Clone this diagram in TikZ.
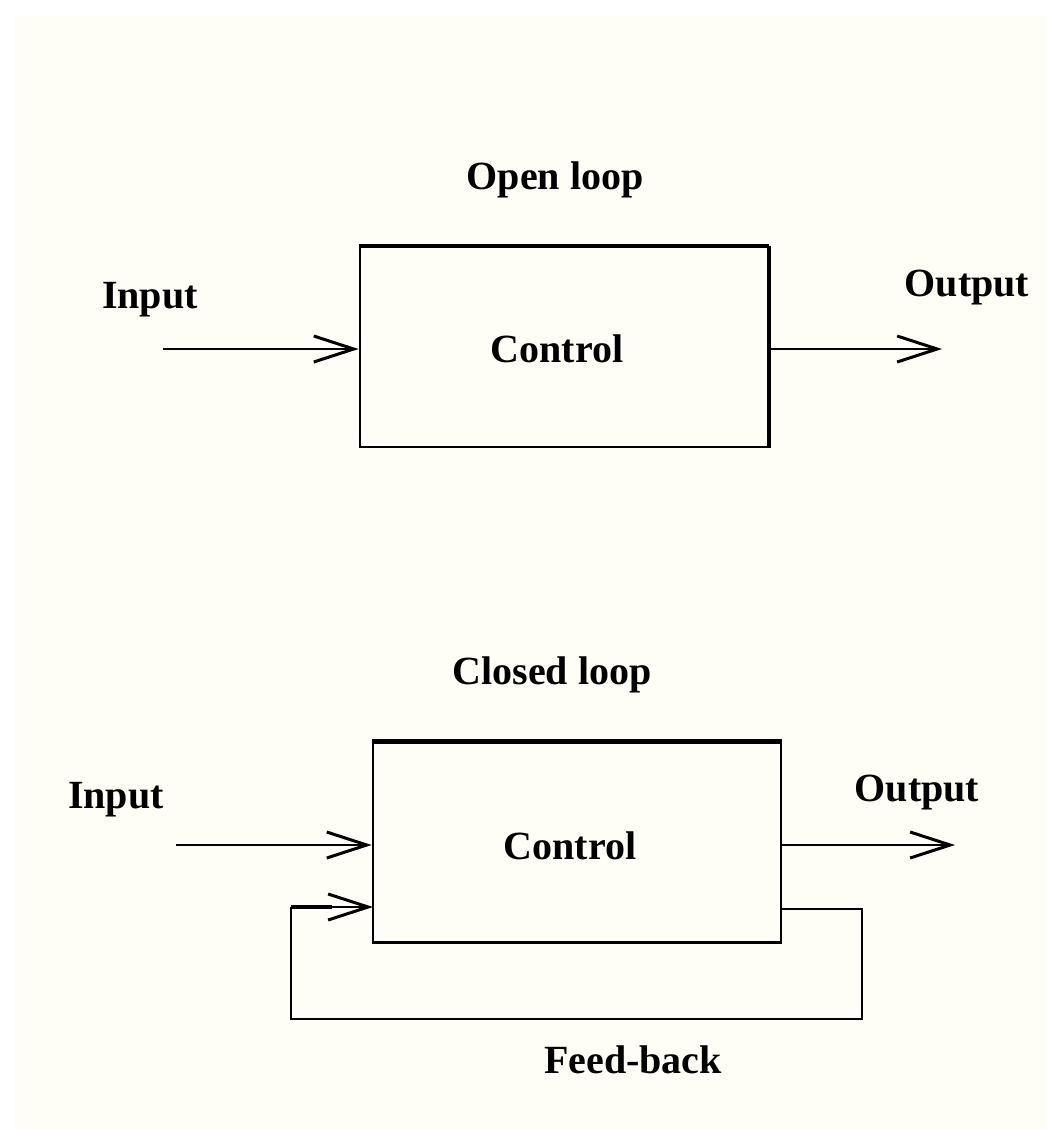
\documentclass[tikz,border=0pt]{standalone}
\usepackage{fontspec}
\setmainfont{Liberation Serif}
\usetikzlibrary{arrows.meta,calc}
\definecolor{bgpaper}{RGB}{254,254,247}
\tikzset{
  blockbox/.style={draw, line width=2.8pt, minimum width=408pt, minimum height=200pt, inner sep=0pt, font=\fontsize{40}{44}\selectfont\bfseries},
  lbl/.style={font=\fontsize{40}{44}\selectfont\bfseries, inner sep=0pt},
  conn/.style={line width=2.6pt, -{Straight Barb[length=40pt,width=26pt,line width=3pt]}},
  fbline/.style={line width=2.8pt}
}
\begin{document}
\begin{tikzpicture}[x=1pt,y=-1pt]
\useasboundingbox (0,0) rectangle (1047,1130);
\fill[white] (0,0) rectangle (1047,1130);
\fill[bgpaper] (15,15) rectangle (1047,1130);

% Open loop
\node[lbl] (t1) at (555,180) {Open loop};
\node[blockbox] (box1) at (564,347) {};
\node[lbl] (c1) at (557,349) {Control};
\draw[line width=4pt] (box1.north west) -- (box1.north east);
\draw[line width=3.5pt] (box1.north east) -- (box1.south east);
\node[lbl] (in1l) at (150,300) {Input};
\node[lbl] (out1l) at (967,288) {Output};
\coordinate (in1) at (163,349);
\coordinate (out1) at (942,349);
\draw[conn] (in1) -- (in1 -| box1.west);
\draw[conn] (out1 -| box1.east) -- (out1);

% Closed loop
\node[lbl] (t2) at (552,675) {Closed loop};
\node[blockbox] (box2) at (577,842.5) {};
\node[lbl] (c2) at (570,846) {Control};
\draw[line width=3.5pt] (box2.north west) -- (box2.north east);
\node[lbl] (in2l) at (116,800) {Input};
\node[lbl] (out2l) at (917,793) {Output};
\coordinate (in2) at (176,845);
\coordinate (out2) at (955,845);
\draw[conn] (in2) -- (in2 -| box2.west);
\draw[conn] (out2 -| box2.east) -- (out2);

% Feedback
\coordinate (fbout) at (781,909);
\coordinate (fbR) at (862,1019);
\coordinate (fbL) at (291,907);
\coordinate (fbin) at (373,907);
\draw[fbline] (fbout) -| (fbR) -| (fbL);
\draw[line width=4pt] (fbL) -- ($(fbL)!0.5!(fbin)$);
\draw[conn] (fbL) -- (fbin);
\node[lbl] (fbl) at (633,1060) {Feed-back};
\end{tikzpicture}
\end{document}
